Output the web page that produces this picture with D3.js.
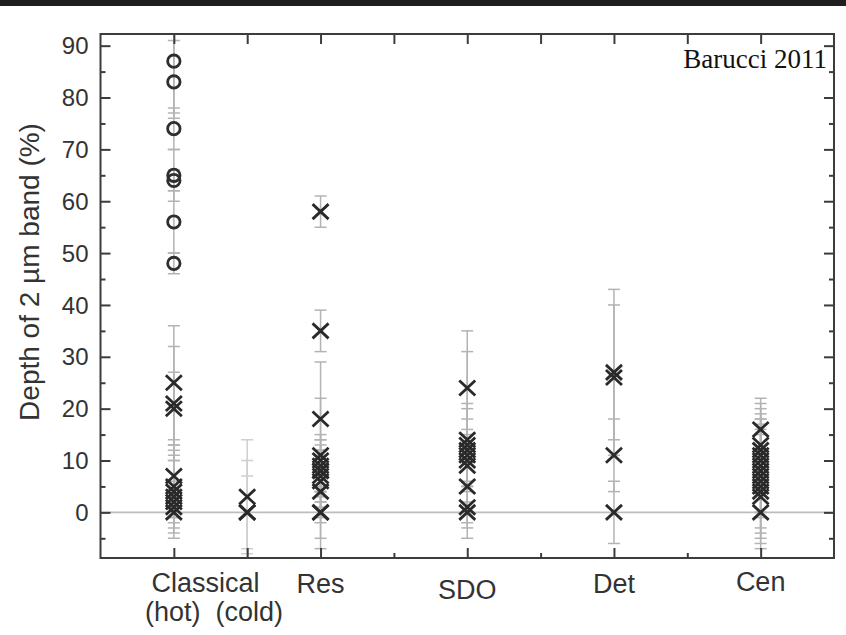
<!DOCTYPE html>
<html>
<head>
<meta charset="utf-8">
<script src="https://cdn.jsdelivr.net/npm/d3@7/dist/d3.min.js"></script>
<style>
  html, body { margin: 0; padding: 0; background: #fff; }
  svg { display: block; }
  text { font-family: "Liberation Sans", Arial, Helvetica, sans-serif; fill: #333; }
</style>
</head>
<body>
<svg id="chart" width="846" height="635"></svg>
<script>
// x slots along the bottom axis (empty slots only carry a tick)
const slots = ["hot", "cold", "Res", "gap1", "SDO", "gap2", "Det", "gap3", "Cen"];
const majorSlots = ["hot", "cold", "Res", "SDO", "Det", "Cen"];

// y axis ticks
const yMajorTicks = [0, 10, 20, 30, 40, 50, 60, 70, 80, 90];
const yMinorTicks = [-5, 5, 15, 25, 35, 45, 55, 65, 75, 85];

// Classical (hot): objects shown as circles
const hotCircleVals = [87, 83, 74, 65, 64, 56, 48];
const hotCircleLo   = [77, 76, 70, 60, 62, 50, 46];
const hotCircleHi   = [97, 91, 78, 70, 66, 62, 50];

// Classical (hot): objects shown as crosses
const hotCrossVals = [25, 21, 20, 7, 5, 4, 3, 2, 1, 0];
const hotCrossLo   = [14, 10, 13, 2, -3, -4, -5, -2, -1, -1];
const hotCrossHi   = [36, 32, 27, 10, 13, 12, 11, 6, 3, 1];

// Classical (cold)
const coldVals = [3, 0, 0];
const coldLo   = [-8, -12, -7];
const coldHi   = [14, 10, 7];

// Resonant
const resVals = [58, 35, 18, 11, 10, 9, 8, 8, 7, 6, 4, 0, 0];
const resLo   = [55, 31, 14, -7, 5, 4, 3, 4, 2, 1, -1, -5, -2];
const resHi   = [61, 39, 22, 29, 15, 14, 13, 12, 12, 11, 9, 4, 2];

// Scattered disk objects
const sdoVals = [24, 14, 13, 12, 11, 10, 9, 5, 1, 0];
const sdoLo   = [13, 10, 5, 4, 6, 5, -5, 0, -3, -2];
const sdoHi   = [35, 18, 21, 20, 16, 15, 31, 10, 5, 2];

// Detached objects
const detVals = [27, 26, 11, 0];
const detLo   = [11, 14, 4, -6];
const detHi   = [43, 40, 18, 6];

// Centaurs
const cenVals = [16, 13, 12, 11, 10, 9, 8, 7, 6, 5, 4, 3, 0];
const cenLo   = [10, 5, 4, 5, 4, 0, -3, -4, 0, -5, -7, -1, -6];
const cenHi   = [22, 21, 20, 17, 16, 18, 19, 18, 12, 15, 10, 7, 6];

const groups = [
  { slot: "hot",  shape: "circle", vals: hotCircleVals, lo: hotCircleLo, hi: hotCircleHi },
  { slot: "hot",  shape: "cross",  vals: hotCrossVals,  lo: hotCrossLo,  hi: hotCrossHi },
  { slot: "cold", shape: "cross",  vals: coldVals,      lo: coldLo,      hi: coldHi, light: true },
  { slot: "Res",  shape: "cross",  vals: resVals,       lo: resLo,       hi: resHi },
  { slot: "SDO",  shape: "cross",  vals: sdoVals,       lo: sdoLo,       hi: sdoHi },
  { slot: "Det",  shape: "cross",  vals: detVals,       lo: detLo,       hi: detHi },
  { slot: "Cen",  shape: "cross",  vals: cenVals,       lo: cenLo,       hi: cenHi }
];

const points = [];
groups.forEach(g => g.vals.forEach((v, i) => points.push({
  slot: g.slot, shape: g.shape, v, lo: g.lo[i], hi: g.hi[i], light: !!g.light
})));

const svg = d3.select("#chart");
const W = 846, H = 635;
const plot = { left: 100.5, right: 834, top: 34, bottom: 558 };

// dark strip across the top edge
svg.append("rect").attr("x", 0).attr("y", 0).attr("width", W).attr("height", 6).attr("fill", "#1f1f1f");

const x = d3.scalePoint().domain(slots).range([plot.left, plot.right]).padding(1);
const y = d3.scaleLinear().domain([-8.8, 92.25]).range([plot.bottom, plot.top]);

svg.append("clipPath").attr("id", "plotClip")
  .append("rect").attr("x", plot.left).attr("y", plot.top)
  .attr("width", plot.right - plot.left).attr("height", plot.bottom - plot.top);

const inner = svg.append("g").attr("clip-path", "url(#plotClip)");

// zero reference line
inner.append("line")
  .attr("x1", plot.left).attr("x2", plot.right)
  .attr("y1", y(0)).attr("y2", y(0))
  .attr("stroke", "#bdbdbd").attr("stroke-width", 1.6);

// error bars
const eb = inner.append("g").selectAll("g").data(points).join("g")
  .attr("stroke", d => d.light ? "#cfcfcf" : "#b3b3b3")
  .attr("stroke-width", 1.5);
eb.append("line")
  .attr("x1", d => x(d.slot)).attr("x2", d => x(d.slot))
  .attr("y1", d => y(d.lo)).attr("y2", d => y(d.hi));
eb.append("line")
  .attr("x1", d => x(d.slot) - 6).attr("x2", d => x(d.slot) + 6)
  .attr("y1", d => y(d.lo)).attr("y2", d => y(d.lo));
eb.append("line")
  .attr("x1", d => x(d.slot) - 6).attr("x2", d => x(d.slot) + 6)
  .attr("y1", d => y(d.hi)).attr("y2", d => y(d.hi));

// circle markers
inner.append("g").selectAll("circle").data(points.filter(d => d.shape === "circle")).join("circle")
  .attr("cx", d => x(d.slot)).attr("cy", d => y(d.v)).attr("r", 6.2)
  .attr("fill", "none").attr("stroke", "#2e2e2e").attr("stroke-width", 2.8);

// cross markers
const crossPath = "M-8,-7.5L8,7.5M-8,7.5L8,-7.5";
inner.append("g").selectAll("path").data(points.filter(d => d.shape === "cross")).join("path")
  .attr("transform", d => `translate(${x(d.slot)},${y(d.v)})`)
  .attr("d", crossPath)
  .attr("fill", "none").attr("stroke", "#2a2a2a").attr("stroke-width", 2.8);

// axes: ticks point inward on all four sides
const axisColor = "#3c3c3c";
const yLeft = d3.axisRight(y).tickValues(yMajorTicks).tickSize(10).tickFormat("");
const yLeftMinor = d3.axisRight(y).tickValues(yMinorTicks).tickSize(5).tickFormat("");
const yRight = d3.axisLeft(y).tickValues(yMajorTicks).tickSize(10).tickFormat("");
const yRightMinor = d3.axisLeft(y).tickValues(yMinorTicks).tickSize(5).tickFormat("");
const xBottom = d3.axisTop(x).tickValues(majorSlots).tickSize(10).tickFormat("");
const xBottomMinor = d3.axisTop(x).tickValues(slots.filter(s => !majorSlots.includes(s))).tickSize(5).tickFormat("");
const xTop = d3.axisBottom(x).tickSize(10).tickFormat("");

function styleAxis(g) {
  g.select(".domain").remove();
  g.selectAll(".tick line").attr("stroke", axisColor).attr("stroke-width", 2);
}
svg.append("g").attr("transform", `translate(${plot.left},0)`).call(yLeft).call(styleAxis);
svg.append("g").attr("transform", `translate(${plot.left},0)`).call(yLeftMinor).call(styleAxis);
svg.append("g").attr("transform", `translate(${plot.right},0)`).call(yRight).call(styleAxis);
svg.append("g").attr("transform", `translate(${plot.right},0)`).call(yRightMinor).call(styleAxis);
svg.append("g").attr("transform", `translate(0,${plot.bottom})`).call(xBottom).call(styleAxis);
svg.append("g").attr("transform", `translate(0,${plot.bottom})`).call(xBottomMinor).call(styleAxis);
svg.append("g").attr("transform", `translate(0,${plot.top})`).call(xTop).call(styleAxis);

// frame
svg.append("rect")
  .attr("x", plot.left).attr("y", plot.top)
  .attr("width", plot.right - plot.left).attr("height", plot.bottom - plot.top)
  .attr("fill", "none").attr("stroke", axisColor).attr("stroke-width", 2);

// y tick labels
svg.append("g").selectAll("text").data(yMajorTicks).join("text")
  .attr("x", plot.left - 12).attr("y", d => y(d)).attr("dy", "0.36em")
  .attr("text-anchor", "end").attr("font-size", 24).text(d => d);

// y axis title
svg.append("text")
  .attr("transform", "translate(39,272) rotate(-90)")
  .attr("text-anchor", "middle").attr("font-size", 28)
  .text("Depth of 2 \u00b5m band (%)");

// category labels
const catLabels = [
  { text: "Classical", at: ["hot", "cold"], dx: -5, base: 592 },
  { text: "(hot)", at: ["hot"], dx: -1, base: 621 },
  { text: "(cold)", at: ["cold"], dx: 2, base: 621 },
  { text: "Res", at: ["Res"], dx: 0, base: 593 },
  { text: "SDO", at: ["SDO"], dx: 0, base: 599 },
  { text: "Det", at: ["Det"], dx: 0, base: 593 },
  { text: "Cen", at: ["Cen"], dx: 0, base: 591 }
];
svg.append("g").selectAll("text").data(catLabels).join("text")
  .attr("x", d => d3.mean(d.at, s => x(s)) + d.dx)
  .attr("y", d => d.base)
  .attr("text-anchor", "middle").attr("font-size", 27)
  .text(d => d.text);

// reference tag
svg.append("text")
  .attr("x", 827).attr("y", 68)
  .attr("text-anchor", "end")
  .style("font-family", "'Liberation Serif', 'Times New Roman', serif")
  .style("fill", "#111")
  .attr("font-size", 27)
  .text("Barucci 2011");
</script>
</body>
</html>
